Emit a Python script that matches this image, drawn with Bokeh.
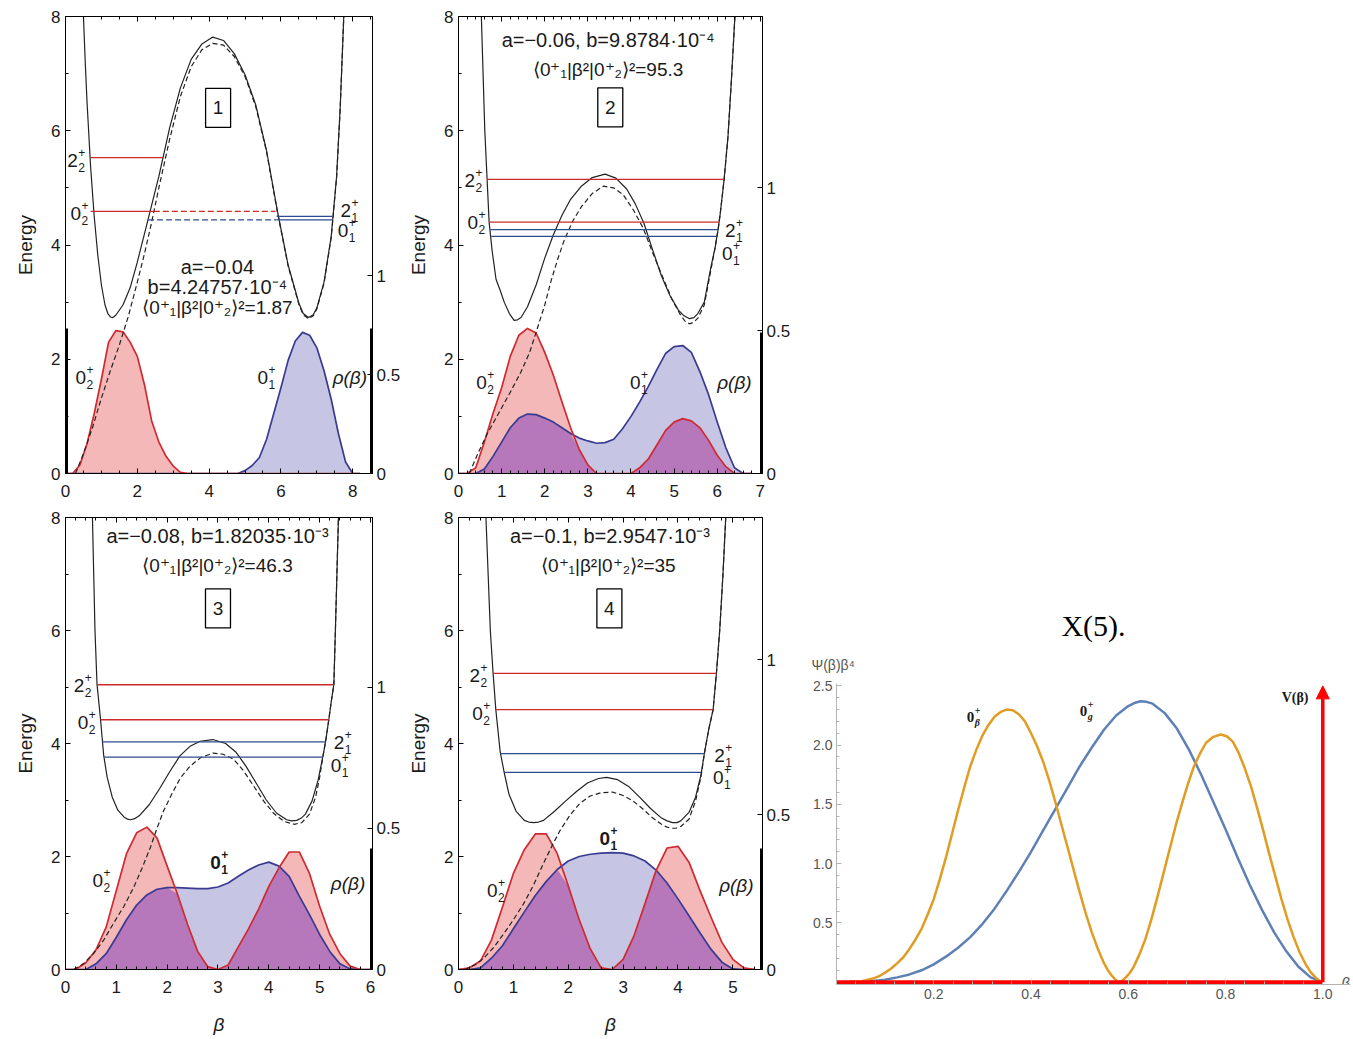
import numpy as np
from bokeh.plotting import figure
from bokeh.layouts import row, column
from bokeh.models import Range1d, LinearAxis, FixedTicker, Title, Spacer, Arrow, NormalHead
from bokeh.core.properties import value
from bokeh.embed import file_html
from bokeh.resources import INLINE

SANS = "Liberation Sans"
SERIF = "Liberation Serif"
RED_LINE = "#d02a30"
BLUE_LINE = "#3a3a92"
RED_FILL = "#f5b8b8"
BLUE_FILL = "#c6c6e4"
MIX_FILL = "#b678ba"
LEV_RED = "#cc2b2b"
LEV_BLUE = "#2e4a90"
INK = "#1a1a1a"

# ================= Panel 1 =================
p1_pot_x = [0.50, 0.55, 0.60, 0.70, 0.80, 0.90, 1.00, 1.10, 1.18, 1.25, 1.32, 1.40, 1.60, 1.80, 2.00, 2.30,
            2.60, 2.90, 3.20, 3.50, 3.80, 4.10, 4.40, 4.70, 5.00, 5.30, 5.60, 5.90, 6.20, 6.50, 6.62, 6.77,
            6.90, 7.00, 7.20, 7.40, 7.55, 7.65, 7.75]
p1_pot_e = [8.0, 7.2, 6.5, 5.36, 4.5, 3.82, 3.3, 2.95, 2.8, 2.74, 2.73, 2.77, 2.95, 3.25, 3.7, 4.45,
            5.2, 6.05, 6.75, 7.25, 7.52, 7.64, 7.58, 7.35, 6.98, 6.45, 5.65, 4.6, 3.65, 2.98, 2.8, 2.73,
            2.78, 2.9, 3.35, 4.15, 5.2, 6.4, 8.0]
p1_dash_x = [0.28, 0.5, 0.75, 1.0, 1.25, 1.5, 1.75, 2.0, 2.2, 2.4, 2.6, 2.9, 3.2, 3.5, 3.8, 4.1, 4.4, 4.7,
             5.0, 5.3, 5.6, 5.9, 6.2, 6.5, 6.62, 6.77, 6.9, 7.0, 7.2, 7.4, 7.55, 7.65, 7.75]
p1_dash_e = [0.0, 0.35, 0.8, 1.32, 1.8, 2.25, 2.75, 3.35, 3.85, 4.4, 5.0, 5.85, 6.6, 7.12, 7.42, 7.53, 7.5,
             7.3, 6.95, 6.42, 5.63, 4.58, 3.63, 2.96, 2.78, 2.71, 2.76, 2.88, 3.33, 4.13, 5.18, 6.38, 8.0]
p1_beta = [0.0, 0.2, 0.4, 0.6, 0.8, 1.0, 1.2, 1.4, 1.6, 1.8, 2.0, 2.2, 2.4, 2.6, 2.8, 3.0, 3.2, 3.4, 3.6,
           3.8, 4.0, 4.2, 4.4, 4.6, 4.8, 5.0, 5.2, 5.4, 5.6, 5.8, 6.0, 6.2, 6.4, 6.6, 6.8, 7.0, 7.2, 7.4,
           7.6, 7.8, 8.0, 8.2]
p1_red = [0, 0, 0.15, 0.52, 1.05, 1.65, 2.3, 2.5, 2.48, 2.3, 2.05, 1.55, 0.92, 0.55, 0.3, 0.13, 0.02,
          0, 0, 0, 0, 0, 0, 0, 0, 0, 0, 0, 0, 0, 0, 0, 0, 0, 0, 0, 0, 0, 0, 0, 0, 0]
p1_blue = [0, 0, 0, 0, 0, 0, 0, 0, 0, 0, 0, 0, 0, 0, 0, 0, 0, 0, 0, 0, 0, 0, 0, 0,
           0, 0.05, 0.14, 0.28, 0.6, 1.05, 1.5, 1.98, 2.32, 2.47, 2.42, 2.2, 1.8, 1.3, 0.7, 0.2, 0, 0]
p1_lev_e = [5.53, 4.59, 4.59, 4.50, 4.44, 4.44]
p1_lev_x0 = [0.70, 0.70, 2.46, 5.88, 5.88, 2.30]
p1_lev_x1 = [2.72, 2.46, 5.85, 7.43, 7.43, 5.88]
p1_lev_col = ["r", "r", "r", "b", "b", "b"]
p1_lev_dash = [0, 0, 1, 0, 0, 1]
p1_lab_x = [0.05, 0.14, 7.66, 7.58, 0.28, 5.35]
p1_lab_y = [5.48, 4.55, 4.60, 4.25, 1.68, 1.68]
p1_lab_sub = ["2", "2", "1", "1", "2", "1"]
p1_lab_base = ["2", "0", "2", "0", "0", "0"]
p1_rho_xy = (7.44, 1.68)
p1_text = ["a=\u22120.04", "b=4.24757\u00b710\u207b\u2074", "\u27e80\u207a\u2081|\u03b2\u00b2|0\u207a\u2082\u27e9\u00b2=1.87"]
p1_text_x = [4.23, 4.23, 4.23]
p1_text_y = [3.61, 3.26, 2.91]
p1_text_size = ["20px", "20px", "19px"]
p1_box = (4.25, 6.40, "1")

# ================= Panel 2 =================
p2_pot_x = [0.53, 0.57, 0.61, 0.66, 0.71, 0.78, 0.87, 0.97, 1.06, 1.18, 1.29, 1.37, 1.45, 1.6, 1.8, 2.0,
            2.2, 2.4, 2.6, 2.85, 3.1, 3.4, 3.65, 3.9, 4.1, 4.3, 4.5, 4.7, 4.9, 5.1, 5.23, 5.36, 5.46, 5.55,
            5.7, 5.85, 5.95, 6.02, 6.07, 6.16, 6.25, 6.33, 6.41]
p2_pot_e = [8.0, 7.0, 6.0, 5.2, 4.4, 3.9, 3.4, 3.2, 3.0, 2.8, 2.68, 2.69, 2.73, 2.92, 3.3, 3.77, 4.18,
            4.52, 4.8, 5.03, 5.18, 5.24, 5.17, 4.98, 4.72, 4.38, 3.92, 3.47, 3.12, 2.86, 2.76, 2.71, 2.73,
            2.8, 3.0, 3.6, 3.95, 4.27, 4.55, 5.15, 5.9, 6.9, 8.0]
p2_dash_x = [0.25, 0.45, 0.67, 0.95, 1.22, 1.45, 1.65, 1.82, 2.0, 2.15, 2.3, 2.45, 2.65, 2.85, 3.1, 3.36,
             3.6, 3.82, 4.05, 4.28, 4.5, 4.74, 4.95, 5.13, 5.25, 5.36, 5.46, 5.55, 5.7, 5.85, 5.95, 6.02,
             6.07, 6.16, 6.25, 6.33, 6.41]
p2_dash_e = [0.0, 0.35, 0.7, 1.08, 1.45, 1.78, 2.12, 2.52, 2.95, 3.38, 3.75, 4.08, 4.42, 4.67, 4.9, 5.03,
             5.0, 4.88, 4.62, 4.3, 3.87, 3.43, 3.05, 2.8, 2.67, 2.62, 2.65, 2.72, 2.95, 3.55, 3.95, 4.27,
             4.55, 5.15, 5.9, 6.9, 8.0]
p2_beta = [0.0, 0.2, 0.4, 0.6, 0.8, 1.0, 1.2, 1.4, 1.6, 1.8, 2.0, 2.2, 2.4, 2.6, 2.8, 3.0, 3.2, 3.4, 3.6,
           3.8, 4.0, 4.2, 4.4, 4.6, 4.8, 5.0, 5.2, 5.4, 5.6, 5.8, 6.0, 6.2, 6.4, 6.6, 6.8]
p2_red = [0, 0, 0.1, 0.55, 1.05, 1.5, 2.05, 2.42, 2.54, 2.46, 2.12, 1.72, 1.25, 0.8, 0.42, 0.15, 0, 0, 0,
          0, 0, 0.1, 0.25, 0.5, 0.75, 0.9, 0.96, 0.92, 0.8, 0.58, 0.32, 0.12, 0, 0, 0]
p2_blue = [0, 0, 0, 0.08, 0.3, 0.55, 0.8, 0.97, 1.04, 1.03, 0.97, 0.9, 0.8, 0.7, 0.62, 0.57, 0.53, 0.54,
           0.6, 0.78, 1.0, 1.25, 1.52, 1.82, 2.1, 2.22, 2.24, 2.12, 1.78, 1.38, 0.9, 0.45, 0.1, 0, 0]
p2_lev_e = [5.15, 4.40, 4.27, 4.15]
p2_lev_x0 = [0.67, 0.71, 0.74, 0.76]
p2_lev_x1 = [6.16, 6.05, 6.02, 6.00]
p2_lev_col = ["r", "r", "b", "b"]
p2_lev_dash = [0, 0, 0, 0]
p2_lab_x = [0.14, 0.21, 6.18, 6.11, 0.41, 3.98]
p2_lab_y = [5.13, 4.40, 4.26, 3.85, 1.60, 1.60]
p2_lab_sub = ["2", "2", "1", "1", "2", "1"]
p2_lab_base = ["2", "0", "2", "0", "0", "0"]
p2_rho_xy = (6.0, 1.60)
p2_text = ["a=\u22120.06, b=9.8784\u00b710\u207b\u2074", "\u27e80\u207a\u2081|\u03b2\u00b2|0\u207a\u2082\u27e9\u00b2=95.3"]
p2_text_x = [3.47, 3.47]
p2_text_y = [7.58, 7.08]
p2_text_size = ["20px", "19px"]
p2_box = (3.52, 6.41, "2")

# ================= Panel 3 =================
p3_pot_x = [0.53, 0.555, 0.58, 0.62, 0.69, 0.75, 0.82, 0.92, 1.03, 1.15, 1.22, 1.28, 1.36, 1.45, 1.65,
            1.85, 2.05, 2.25, 2.45, 2.65, 2.9, 3.15, 3.35, 3.55, 3.75, 3.95, 4.15, 4.35, 4.45, 4.55, 4.64,
            4.72, 4.85, 4.97, 5.07, 5.12, 5.18, 5.23, 5.28, 5.31, 5.34, 5.37]
p3_pot_e = [8.0, 7.0, 6.0, 5.05, 4.42, 3.8, 3.4, 3.05, 2.82, 2.7, 2.66, 2.65, 2.67, 2.72, 2.92, 3.2, 3.5,
            3.78, 3.95, 4.04, 4.07, 4.0, 3.85, 3.6, 3.3, 3.0, 2.77, 2.65, 2.63, 2.64, 2.68, 2.75, 2.98,
            3.35, 3.8, 4.05, 4.42, 4.75, 5.05, 6.0, 7.0, 8.0]
p3_dash_x = [0.16, 0.35, 0.55, 0.75, 0.94, 1.15, 1.34, 1.5, 1.67, 1.8, 1.93, 2.1, 2.26, 2.45, 2.66, 2.9,
             3.1, 3.31, 3.5, 3.7, 3.9, 4.1, 4.3, 4.5, 4.65, 4.8, 4.92, 5.0, 5.07, 5.12, 5.18, 5.23, 5.28,
             5.31, 5.34, 5.37]
p3_dash_e = [0.0, 0.1, 0.28, 0.52, 0.81, 1.12, 1.45, 1.78, 2.16, 2.5, 2.81, 3.12, 3.39, 3.6, 3.75, 3.83,
             3.81, 3.72, 3.52, 3.25, 2.98, 2.76, 2.62, 2.57, 2.6, 2.75, 3.05, 3.4, 3.8, 4.05, 4.42, 4.75,
             5.05, 6.0, 7.0, 8.0]
p3_beta = [0.0, 0.2, 0.4, 0.6, 0.8, 1.0, 1.2, 1.4, 1.6, 1.8, 2.0, 2.2, 2.4, 2.6, 2.8, 3.0, 3.2, 3.4, 3.6,
           3.8, 4.0, 4.2, 4.4, 4.6, 4.8, 5.0, 5.2, 5.4, 5.6, 5.8, 6.0]
p3_red = [0, 0, 0.12, 0.35, 0.75, 1.4, 2.05, 2.42, 2.52, 2.33, 1.83, 1.34, 0.8, 0.32, 0.05, 0, 0.08, 0.4,
          0.72, 1.07, 1.47, 1.8, 2.08, 2.08, 1.7, 1.12, 0.62, 0.28, 0.06, 0, 0]
p3_blue = [0, 0, 0, 0.1, 0.28, 0.57, 0.88, 1.14, 1.32, 1.42, 1.45, 1.45, 1.44, 1.43, 1.43, 1.46, 1.53,
           1.65, 1.76, 1.85, 1.9, 1.83, 1.65, 1.3, 0.97, 0.62, 0.32, 0.1, 0.01, 0, 0]
p3_lev_e = [5.04, 4.42, 4.03, 3.76]
p3_lev_x0 = [0.62, 0.69, 0.72, 0.76]
p3_lev_x1 = [5.28, 5.18, 5.12, 5.06]
p3_lev_col = ["r", "r", "b", "b"]
p3_lev_dash = [0, 0, 0, 0]
p3_lab_x = [0.16, 0.24, 5.28, 5.22, 0.53, 2.85]
p3_lab_y = [5.03, 4.37, 4.02, 3.61, 1.58, 1.90]
p3_lab_sub = ["2", "2", "1", "1", "2", "1"]
p3_lab_base = ["2", "0", "2", "0", "0", "0"]
p3_rho_xy = (5.22, 1.52)
p3_text = ["a=\u22120.08, b=1.82035\u00b710\u207b\u00b3", "\u27e80\u207a\u2081|\u03b2\u00b2|0\u207a\u2082\u27e9\u00b2=46.3"]
p3_text_x = [2.99, 2.99]
p3_text_y = [7.67, 7.15]
p3_text_size = ["20px", "19px"]
p3_box = (3.0, 6.39, "3")

# ================= Panel 4 =================
p4_pot_x = [0.5, 0.54, 0.58, 0.63, 0.68, 0.76, 0.83, 0.92, 1.05, 1.2, 1.28, 1.37, 1.46, 1.55, 1.75, 1.95,
            2.15, 2.35, 2.55, 2.7, 2.9, 3.1, 3.3, 3.5, 3.7, 3.8, 3.9, 3.98, 4.05, 4.2, 4.32, 4.42, 4.48,
            4.56, 4.64, 4.7, 4.76, 4.82, 4.87]
p4_pot_e = [8.0, 7.0, 6.0, 5.25, 4.6, 3.85, 3.5, 3.1, 2.8, 2.64, 2.61, 2.6, 2.61, 2.64, 2.8, 2.98, 3.15,
            3.3, 3.38, 3.4, 3.36, 3.24, 3.05, 2.85, 2.68, 2.63, 2.6, 2.6, 2.63, 2.78, 3.05, 3.45, 3.82,
            4.25, 4.6, 5.24, 6.0, 7.0, 8.0]
p4_dash_x = [0.11, 0.3, 0.47, 0.65, 0.83, 1.0, 1.19, 1.37, 1.55, 1.7, 1.85, 2.03, 2.21, 2.4, 2.6, 2.81,
             3.0, 3.17, 3.35, 3.53, 3.7, 3.8, 3.88, 3.96, 4.05, 4.2, 4.32, 4.42, 4.48, 4.56, 4.64, 4.7,
             4.76, 4.82, 4.87]
p4_dash_e = [0.0, 0.08, 0.21, 0.4, 0.64, 0.88, 1.17, 1.5, 1.88, 2.18, 2.46, 2.73, 2.94, 3.07, 3.13, 3.14,
             3.08, 2.99, 2.85, 2.69, 2.57, 2.52, 2.5, 2.5, 2.53, 2.66, 2.98, 3.42, 3.82, 4.25, 4.6, 5.24,
             6.0, 7.0, 8.0]
p4_beta = [0.0, 0.2, 0.4, 0.6, 0.8, 1.0, 1.2, 1.4, 1.6, 1.8, 2.0, 2.2, 2.4, 2.6, 2.8, 3.0, 3.2, 3.4, 3.6,
           3.8, 4.0, 4.2, 4.4, 4.6, 4.8, 5.0, 5.2, 5.4]
p4_red = [0, 0.03, 0.15, 0.52, 1.1, 1.7, 2.12, 2.4, 2.4, 2.05, 1.48, 0.88, 0.37, 0.03, 0, 0.18, 0.6, 1.17,
          1.75, 2.15, 2.18, 1.9, 1.4, 0.93, 0.48, 0.18, 0.03, 0]
p4_blue = [0, 0, 0.03, 0.2, 0.42, 0.72, 1.02, 1.31, 1.56, 1.77, 1.92, 2.0, 2.04, 2.06, 2.07, 2.06, 2.01,
           1.92, 1.76, 1.53, 1.25, 0.95, 0.65, 0.36, 0.13, 0.01, 0, 0]
p4_lev_e = [5.24, 4.60, 3.82, 3.49]
p4_lev_x0 = [0.63, 0.68, 0.76, 0.83]
p4_lev_x1 = [4.70, 4.64, 4.48, 4.42]
p4_lev_col = ["r", "r", "b", "b"]
p4_lev_dash = [0, 0, 0, 0]
p4_lab_x = [0.20, 0.25, 4.66, 4.64, 0.52, 2.57]
p4_lab_y = [5.20, 4.53, 3.79, 3.40, 1.40, 2.32]
p4_lab_sub = ["2", "2", "1", "1", "2", "1"]
p4_lab_base = ["2", "0", "2", "0", "0", "0"]
p4_rho_xy = (4.75, 1.49)
p4_text = ["a=\u22120.1, b=2.9547\u00b710\u207b\u00b3", "\u27e80\u207a\u2081|\u03b2\u00b2|0\u207a\u2082\u27e9\u00b2=35"]
p4_text_x = [2.76, 2.73]
p4_text_y = [7.67, 7.15]
p4_text_size = ["20px", "19px"]
p4_box = (2.75, 6.39, "4")

# ================= X(5) panel =================
x5_g_beta = [0.0, 0.025, 0.05, 0.075, 0.1, 0.125, 0.15, 0.175, 0.2, 0.225, 0.25, 0.275, 0.3, 0.325, 0.35,
             0.375, 0.4, 0.425, 0.45, 0.475, 0.5, 0.525, 0.55, 0.575, 0.6, 0.6125, 0.625, 0.6375, 0.65,
             0.675, 0.7, 0.725, 0.75, 0.775, 0.8, 0.825, 0.85, 0.875, 0.9, 0.925, 0.95, 0.975, 1.0]
x5_g_psi = [0.0, 0.0003, 0.003, 0.009, 0.02, 0.04, 0.065, 0.1, 0.15, 0.215, 0.29, 0.38, 0.49, 0.62, 0.77,
            0.93, 1.1, 1.28, 1.46, 1.64, 1.82, 1.98, 2.13, 2.25, 2.33, 2.355, 2.37, 2.365, 2.35, 2.27,
            2.14, 1.96, 1.75, 1.52, 1.29, 1.05, 0.82, 0.61, 0.42, 0.26, 0.13, 0.04, 0.0]
x5_b_beta = [0.0, 0.025, 0.05, 0.075, 0.0875, 0.1, 0.1125, 0.125, 0.1375, 0.15, 0.1625, 0.175, 0.1875,
             0.2, 0.2125, 0.225, 0.2375, 0.25, 0.2625, 0.275, 0.2875, 0.3, 0.3125, 0.325, 0.3375, 0.35,
             0.3625, 0.375, 0.3875, 0.4, 0.4125, 0.425, 0.4375, 0.45, 0.4625, 0.475, 0.4875, 0.5, 0.5125,
             0.525, 0.5375, 0.55, 0.5575, 0.565, 0.5725, 0.58, 0.5875, 0.595, 0.6025, 0.61, 0.6225, 0.635,
             0.6475, 0.66, 0.6725, 0.685, 0.6975, 0.71, 0.7225, 0.735, 0.7475, 0.76, 0.775, 0.79, 0.8025,
             0.815, 0.8275, 0.84, 0.8525, 0.865, 0.8775, 0.89, 0.9025, 0.915, 0.9275, 0.94, 0.9525, 0.965,
             0.975, 0.985, 0.9925, 1.0]
x5_b_psi = [0.0, 0.0005, 0.005, 0.03, 0.05, 0.08, 0.115, 0.16, 0.21, 0.28, 0.36, 0.45, 0.57, 0.7, 0.87,
            1.05, 1.25, 1.45, 1.64, 1.82, 1.96, 2.08, 2.17, 2.24, 2.28, 2.3, 2.295, 2.26, 2.2, 2.1, 1.99,
            1.86, 1.7, 1.52, 1.33, 1.14, 0.95, 0.76, 0.58, 0.42, 0.28, 0.16, 0.105, 0.06, 0.025, 0.0,
            0.012, 0.04, 0.075, 0.12, 0.23, 0.36, 0.53, 0.72, 0.92, 1.12, 1.32, 1.5, 1.67, 1.82, 1.93,
            2.02, 2.07, 2.09, 2.075, 2.03, 1.93, 1.8, 1.65, 1.47, 1.28, 1.08, 0.89, 0.7, 0.53, 0.38, 0.25,
            0.15, 0.085, 0.04, 0.012, 0.0]
x5_wall_beta = [0.0, 1.0]
x5_wall_v = [0.0, 0.0]
x5_wall_top = 2.5
x5_xticks = [0.2, 0.4, 0.6, 0.8, 1.0]
x5_xtick_labels = ["0.2", "0.4", "0.6", "0.8", "1.0"]
x5_yticks = [0.5, 1.0, 1.5, 2.0, 2.5]
x5_ytick_labels = ["0.5", "1.0", "1.5", "2.0", "2.5"]


def style_axis(ax, size="17px"):
    ax.axis_line_color = "black"
    ax.major_tick_line_color = "black"
    ax.minor_tick_line_color = "black"
    ax.major_tick_in = 5
    ax.major_tick_out = 0
    ax.minor_tick_in = 3
    ax.minor_tick_out = 0
    ax.major_label_text_font = SANS
    ax.major_label_text_font_size = size
    ax.major_label_text_color = INK
    ax.major_label_standoff = 5
    ax.axis_label_text_font = SANS
    ax.axis_label_text_font_size = "19px"
    ax.axis_label_text_color = INK
    ax.axis_label_text_font_style = "normal"


def state_labels(p, xs, ys, bases, subs, bold_idx=(), size=19, small=12, font=SANS, dx=11, up=-8, down=7,
                 sub_style="normal"):
    for i in range(len(xs)):
        st = "bold" if i in bold_idx else "normal"
        p.text(x=[xs[i]], y=[ys[i]], text=[bases[i]], text_font=value(font), text_font_size=f"{size}px",
               text_align="left", text_baseline="middle", text_color=INK, text_font_style=st)
        p.text(x=[xs[i]], y=[ys[i]], text=["+"], text_font=value(font), text_font_size=f"{small}px",
               text_align="left", text_baseline="middle", text_color=INK, x_offset=dx, y_offset=up,
               text_font_style=st)
        p.text(x=[xs[i]], y=[ys[i]], text=[subs[i]], text_font=value(font), text_font_size=f"{small}px",
               text_align="left", text_baseline="middle", text_color=INK, x_offset=dx, y_offset=down,
               text_font_style=sub_style if sub_style != "normal" else st)


def make_panel(beta, red, blue, pot_x, pot_e, dash_x, dash_e, lev_e, lev_x0, lev_x1, lev_col, lev_dash,
               lab_x, lab_y, lab_base, lab_sub, rho_xy, texts, text_x, text_y, text_size, box,
               xmax, xticks, xminor, rho_max, bar_top, left_bar, bold_idx,
               width, height, bl, br, bt, bb, xlabel):
    p = figure(width=width, height=height, x_range=Range1d(0, xmax), y_range=Range1d(0, 8),
               output_backend="svg", toolbar_location=None, x_axis_location=None, y_axis_location=None,
               min_border_left=bl, min_border_right=br, min_border_top=bt, min_border_bottom=bb)
    p.grid.visible = False
    p.outline_line_color = "black"
    p.background_fill_color = "white"
    p.border_fill_color = "white"

    left = LinearAxis(ticker=FixedTicker(ticks=[0, 2, 4, 6, 8], minor_ticks=[1, 3, 5, 7]), axis_label="Energy")
    style_axis(left)
    left.axis_label_standoff = 12
    p.add_layout(left, "left")

    below = LinearAxis(ticker=FixedTicker(ticks=xticks, minor_ticks=xminor), axis_label=xlabel)
    style_axis(below)
    below.major_label_standoff = 11
    below.axis_label_text_font_style = "italic"
    below.axis_label_standoff = 18
    p.add_layout(below, "below")

    above = LinearAxis(ticker=FixedTicker(ticks=xticks, minor_ticks=xminor),
                       major_label_overrides={t: "" for t in xticks})
    style_axis(above)
    above.major_label_standoff = 0
    p.add_layout(above, "above")

    p.extra_y_ranges = {"rho": Range1d(0, rho_max)}
    right = LinearAxis(y_range_name="rho", ticker=FixedTicker(ticks=[0, 0.5, 1]),
                       major_label_overrides={0: "0", 0.5: "0.5", 1: "1"})
    style_axis(right)
    right.major_label_standoff = 4
    p.add_layout(right, "right")

    red = np.array(red, dtype=float)
    blue = np.array(blue, dtype=float)
    p.varea(x=beta, y1=0, y2=blue, fill_color=BLUE_FILL)
    p.varea(x=beta, y1=0, y2=red, fill_color=RED_FILL)
    p.varea(x=beta, y1=0, y2=np.minimum(red, blue), fill_color=MIX_FILL)
    p.line(beta, blue, line_color=BLUE_LINE, line_width=1.7, line_join="round")
    p.line(beta, red, line_color=RED_LINE, line_width=1.7, line_join="round")

    p.line(dash_x, dash_e, line_color="#222222", line_width=1.2, line_dash="5 3", line_join="round")
    p.line(pot_x, pot_e, line_color="#222222", line_width=1.2, line_join="round")

    for e, x0, x1, c, d in zip(lev_e, lev_x0, lev_x1, lev_col, lev_dash):
        p.segment(x0=[x0], y0=[e], x1=[x1], y1=[e], line_color=LEV_RED if c == "r" else LEV_BLUE,
                  line_width=1.3, line_dash="6 3" if d else "solid")

    bars_x = [xmax] + ([0.0] if left_bar else [])
    p.segment(x0=bars_x, y0=[0.0] * len(bars_x), x1=bars_x, y1=[bar_top] * len(bars_x),
              line_color="black", line_width=5)

    state_labels(p, lab_x, lab_y, lab_base, lab_sub, bold_idx=bold_idx)
    p.text(x=[rho_xy[0]], y=[rho_xy[1]], text=["\u03c1(\u03b2)"], text_font=value(SANS),
           text_font_size="19px", text_font_style="italic", text_align="left", text_baseline="middle",
           text_color=INK)
    for tx, ty, tt, ts in zip(text_x, text_y, texts, text_size):
        p.text(x=[tx], y=[ty], text=[tt], text_font=value(SANS), text_font_size=ts,
               text_align="center", text_baseline="middle", text_color=INK)
    p.rect(x=[box[0]], y=[box[1]], width=25, height=39, width_units="screen", height_units="screen",
           fill_color=None, line_color="black", line_width=1.3)
    p.text(x=[box[0]], y=[box[1]], text=[box[2]], text_font=value(SANS), text_font_size="19px",
           text_align="center", text_baseline="middle", text_color=INK)
    return p


p1 = make_panel(p1_beta, p1_red, p1_blue, p1_pot_x, p1_pot_e, p1_dash_x, p1_dash_e, p1_lev_e, p1_lev_x0,
                p1_lev_x1, p1_lev_col, p1_lev_dash, p1_lab_x, p1_lab_y, p1_lab_base, p1_lab_sub, p1_rho_xy,
                p1_text, p1_text_x, p1_text_y, p1_text_size, p1_box,
                xmax=8.55, xticks=[0, 2, 4, 6, 8], xminor=[0.5 * k for k in range(18)], rho_max=2.31,
                bar_top=2.54, left_bar=True, bold_idx=(),
                width=405, height=500, bl=65, br=33, bt=16, bb=27, xlabel=None)
p2 = make_panel(p2_beta, p2_red, p2_blue, p2_pot_x, p2_pot_e, p2_dash_x, p2_dash_e, p2_lev_e, p2_lev_x0,
                p2_lev_x1, p2_lev_col, p2_lev_dash, p2_lab_x, p2_lab_y, p2_lab_base, p2_lab_sub, p2_rho_xy,
                p2_text, p2_text_x, p2_text_y, p2_text_size, p2_box,
                xmax=7.05, xticks=[0, 1, 2, 3, 4, 5, 6, 7], xminor=[0.2 * k for k in range(36)], rho_max=1.6,
                bar_top=2.47, left_bar=False, bold_idx=(),
                width=405, height=500, bl=48, br=48, bt=16, bb=27, xlabel=None)
p3 = make_panel(p3_beta, p3_red, p3_blue, p3_pot_x, p3_pot_e, p3_dash_x, p3_dash_e, p3_lev_e, p3_lev_x0,
                p3_lev_x1, p3_lev_col, p3_lev_dash, p3_lab_x, p3_lab_y, p3_lab_base, p3_lab_sub, p3_rho_xy,
                p3_text, p3_text_x, p3_text_y, p3_text_size, p3_box,
                xmax=6.04, xticks=[0, 1, 2, 3, 4, 5, 6], xminor=[0.2 * k for k in range(31)], rho_max=1.6,
                bar_top=2.14, left_bar=False, bold_idx=(5,),
                width=405, height=539, bl=65, br=33, bt=17, bb=70, xlabel="\u03b2")
p4 = make_panel(p4_beta, p4_red, p4_blue, p4_pot_x, p4_pot_e, p4_dash_x, p4_dash_e, p4_lev_e, p4_lev_x0,
                p4_lev_x1, p4_lev_col, p4_lev_dash, p4_lab_x, p4_lab_y, p4_lab_base, p4_lab_sub, p4_rho_xy,
                p4_text, p4_text_x, p4_text_y, p4_text_size, p4_box,
                xmax=5.54, xticks=[0, 1, 2, 3, 4, 5], xminor=[0.2 * k for k in range(28)], rho_max=1.46,
                bar_top=2.14, left_bar=False, bold_idx=(5,),
                width=405, height=539, bl=49, br=48, bt=17, bb=70, xlabel="\u03b2")

# ---------------- X(5) panel ----------------
p5 = figure(width=543, height=1036, x_range=Range1d(0, 1.057), y_range=Range1d(-0.02, 2.52),
            output_backend="svg", toolbar_location=None, x_axis_location=None, y_axis_location=None,
            min_border_left=25, min_border_right=3, min_border_top=680, min_border_bottom=55)
p5.grid.visible = False
p5.outline_line_color = None
GREY_AX = "#b4b4b4"
for loc, ticks, labels, minors in (("below", x5_xticks, x5_xtick_labels, [0.04 * k for k in range(1, 26)]),
                                   ("left", x5_yticks, x5_ytick_labels, [0.1 * k for k in range(1, 26)])):
    ax = LinearAxis(ticker=FixedTicker(ticks=ticks, minor_ticks=minors),
                    major_label_overrides={t: s for t, s in zip(ticks, labels)})
    ax.axis_line_color = GREY_AX
    ax.major_tick_line_color = GREY_AX
    ax.minor_tick_line_color = GREY_AX
    ax.major_tick_in = 5
    ax.major_tick_out = 0
    ax.minor_tick_in = 3
    ax.minor_tick_out = 0
    ax.major_label_text_font = SANS
    ax.major_label_text_font_size = "14px"
    ax.major_label_text_color = "#555555"
    ax.major_label_standoff = 4
    p5.add_layout(ax, loc)

p5.add_layout(Title(text="\u03a8(\u03b2)\u03b2\u2074", align="left", offset=-25, standoff=22, text_font=SANS,
                    text_font_size="14px", text_font_style="normal", text_color="#555555"), "above")
p5.add_layout(Title(text="X(5).", align="center", standoff=4, text_font=SERIF, text_font_size="30px",
                    text_font_style="normal", text_color="black"), "above")

p5.line(x5_g_beta, x5_g_psi, line_color="#5E81B5", line_width=2.5, line_join="round")
p5.line(x5_b_beta, x5_b_psi, line_color="#E19C24", line_width=2.5, line_join="round")
p5.line(x5_wall_beta, x5_wall_v, line_color="#ff0000", line_width=4)
p5.add_layout(Arrow(end=NormalHead(size=13, fill_color="#ff0000", line_color="#ff0000"),
                    x_start=x5_wall_beta[1], y_start=0.0, x_end=x5_wall_beta[1], y_end=x5_wall_top,
                    line_color="#ff0000", line_width=3.5))
state_labels(p5, [0.268, 0.5], [2.24, 2.29], ["0", "0"], ["\u03b2", "g"], bold_idx=(0, 1), size=15, small=10,
             font=SERIF, dx=8, up=-6, down=6, sub_style="bold italic")
p5.text(x=[0.943], y=[2.40], text=["V(\u03b2)"], text_font=value(SERIF), text_font_size="14px",
        text_font_style="bold", text_align="center", text_baseline="middle", text_color=INK)
p5.text(x=[1.038], y=[0.0], text=["\u03b2"], text_font=value(SANS), text_font_size="15px",
        text_font_style="italic", text_align="left", text_baseline="middle", text_color="#555555")

green = figure(width=498, height=3, output_backend="svg", toolbar_location=None,
               x_axis_location=None, y_axis_location=None, min_border=0)
green.grid.visible = False
green.outline_line_color = None
green.background_fill_color = "#7dab2c"
green.border_fill_color = "#7dab2c"

right_col = column(row(Spacer(width=45, height=3), green), p5)
left_col = column(row(p1, p2), row(p3, p4))
layout = row(left_col, right_col)

open("out.html", "w").write(file_html(layout, INLINE))
